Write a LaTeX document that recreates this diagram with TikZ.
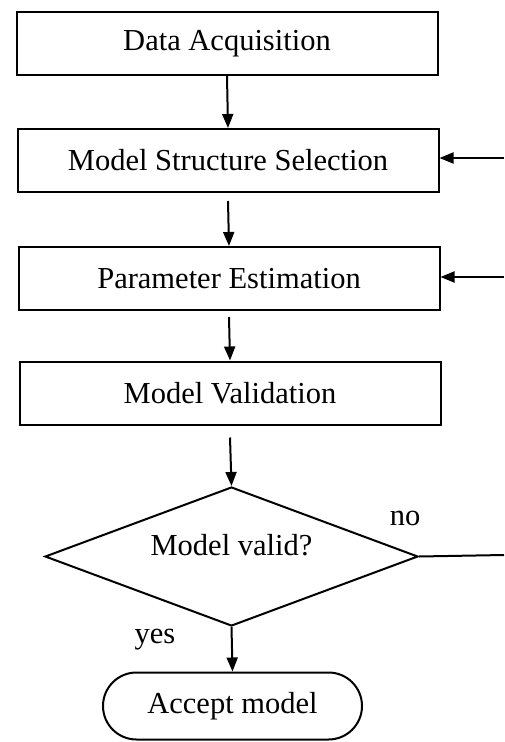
\documentclass[tikz,border=0pt]{standalone}
\usepackage{fontspec}
\setmainfont{Liberation Serif}
\usetikzlibrary{shapes.geometric,shapes.misc,arrows.meta}
\begin{document}
\begin{tikzpicture}[x=1pt,y=-1pt,
  every node/.style={font=\fontsize{30.5}{36}\selectfont},
  procbox/.style={draw,line width=2pt,minimum width=421pt,minimum height=63pt,inner sep=0pt},
  arr/.style={line width=2pt,-{Triangle[length=14pt,width=11pt]}},
  ln/.style={line width=2pt}]
\useasboundingbox (0,0) rectangle (504,742);
\node[procbox] (da) at (227,43.5) {Data Acquisition};
\node[procbox] (mss) at (228,160.5) {Model Structure Selection};
\node[procbox] (pe) at (229,278.5) {Parameter Estimation};
\node[procbox] (mv) at (230,393) {Model Validation};
\node[draw,diamond,aspect=2.68,line width=2pt,minimum width=373pt,minimum height=139pt,inner sep=0pt] (dec) at (231.5,556.5) {\raisebox{24pt}{Model valid?}};
\node[draw,rounded rectangle,line width=2pt,minimum width=259pt,minimum height=67pt,inner sep=0pt] (acc) at (232.5,706) {\raisebox{-8pt}{Accept model}};
\coordinate (r1) at (504,158);
\coordinate (r2) at (504,277);
\coordinate (r3) at (504,555);
\draw[arr] (da.south) -- (mss.north);
\draw[arr] ([yshift=-8pt]mss.south) -- (pe.north);
\draw[arr] ([yshift=-6pt]pe.south) -- (mv.north);
\draw[arr] ([yshift=-12pt]mv.south) -- (dec.north);
\draw[arr] (dec.south) -- (acc.north);
\draw[arr] (r1) -- (r1 -| mss.east);
\draw[arr] (r2) -- (r2 -| pe.east);
\draw[ln] (dec.east) -- (r3);
\node (no) at (405,518) {no};
\node (yes) at (155,640) {yes};
\end{tikzpicture}
\end{document}
